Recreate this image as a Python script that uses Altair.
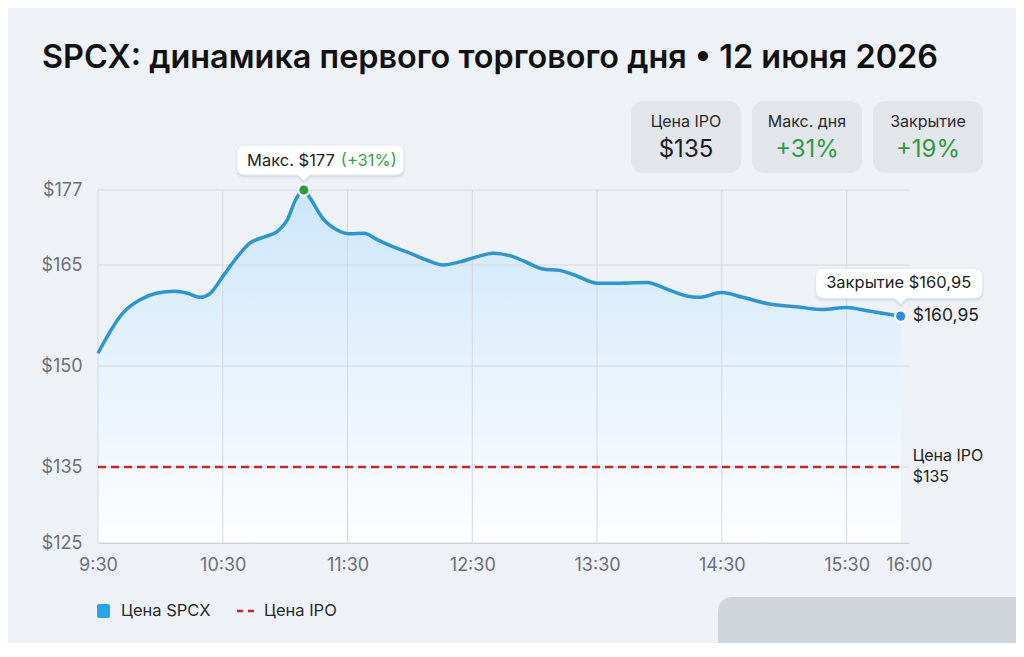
import altair as alt
import pandas as pd

# ---------------- data ----------------
minutes = [0, 12, 20, 28, 37, 43, 49, 54, 60, 67, 73, 80, 86, 91, 95, 99,
           102, 108, 115, 121, 128, 134, 142, 150, 158, 166, 174, 182, 190,
           198, 205, 214, 222, 230, 240, 251, 264, 273, 283, 289, 300, 310,
           323, 336, 348, 360, 370, 386]
prices = [151.9, 157.9, 159.8, 160.8, 161.1, 160.8, 160.2, 160.8, 163.3,
          166.3, 168.5, 169.5, 170.3, 172.2, 175.4, 177.0, 175.7, 172.5,
          170.6, 170.0, 170.1, 169.1, 167.9, 166.9, 165.8, 165.0, 165.5,
          166.3, 166.9, 166.5, 165.6, 164.4, 164.2, 163.4, 162.3, 162.3,
          162.4, 161.5, 160.4, 160.2, 160.9, 160.2, 159.2, 158.8, 158.4,
          158.7, 158.2, 157.4]
x_ticks = [0, 60, 120, 180, 240, 300, 360, 390]     # minutes after 9:30
grid_x = [0, 60, 120, 180, 240, 300, 360]
y_ticks = [125, 135, 150, 165, 177]
series_names = ["Цена SPCX", "Цена IPO"]
ipo_price = 135
close_printed = "160,95"
peak_label = "Макс. $177"
peak_change = "(+31%)"
ipo_label_lines = ["Цена IPO", "$135"]
card_labels = ["Цена IPO", "Макс. дня", "Закрытие"]
card_values = ["$135", "+31%", "+19%"]
title_text = "SPCX: динамика первого торгового дня • 12 июня 2026"

# ---------------- tables ----------------
price_df = pd.DataFrame({"m": minutes, "price": prices, "series": series_names[0]})
peak_df = price_df.loc[[price_df["price"].idxmax()]].copy()
close_df = price_df.iloc[[-1]].copy()
ipo_df = pd.DataFrame({"m0": [minutes[0]], "m1": [minutes[-1]],
                       "price": [ipo_price], "series": [series_names[1]]})
cards_df = pd.DataFrame({"label": card_labels, "value": card_values,
                         "i": list(range(len(card_labels)))})
cards_df["vcolor"] = ["#1c1c1c", "#2e9a44", "#2e9a44"]
legend_df = pd.DataFrame({"series": series_names, "i": [0, 1]})
gridx_df = pd.DataFrame({"m": grid_x})
gridy_df = pd.DataFrame({"price": y_ticks})

FONT = "Inter"
LINE = "#2d95d2"
RED = "#c3282d"
GREEN = "#2a9a3c"
GRID = "#d3d9e0"

x_scale = alt.Scale(domain=[0, 390], nice=False, zero=False)
y_scale = alt.Scale(domain=[125, 135, 150, 165, 177],
                    range=[353, 277, 176, 75, 0], nice=False, zero=False)
color_scale = alt.Scale(domain=series_names, range=[LINE, RED])

x_axis = alt.Axis(
    values=x_ticks, title=None,
    labelExpr="floor((datum.value + 570) / 60) + ':' + (((datum.value + 570) % 60) == 0 ? '00' : '30')",
    grid=False, domain=True, domainColor="#c6cdd5", ticks=False, labelFlush=False,
    labelFont=FONT, labelFontSize=18, labelColor="#6b7078", labelPadding=13)
y_axis = alt.Axis(
    values=y_ticks, title=None, labelExpr="'$' + datum.value",
    grid=False, domain=False, ticks=False,
    labelFont=FONT, labelFontSize=18, labelColor="#6b7078", labelPadding=16)

X = alt.X("m:Q", scale=x_scale, axis=x_axis)
Y = alt.Y("price:Q", scale=y_scale, axis=y_axis)
C = alt.Color("series:N", scale=color_scale, legend=None)

area = alt.Chart(price_df).mark_area(
    interpolate="monotone",
    color=alt.Gradient(gradient="linear", x1=0, x2=0, y1=0, y2=1,
                       stops=[alt.GradientStop(color="#cbe6fa", offset=0),
                              alt.GradientStop(color="#e4f1fc", offset=0.45),
                              alt.GradientStop(color="#fdfeff", offset=1)])
).encode(x=X, y=Y, y2=alt.datum(125))

grid_v = alt.Chart(gridx_df).mark_rule(color=GRID, strokeWidth=1).encode(x=X)
grid_h = alt.Chart(gridy_df).mark_rule(color=GRID, strokeWidth=1).encode(y=Y)

rule = alt.Chart(ipo_df).mark_rule(strokeDash=[8, 5], strokeWidth=2.5).encode(
    x=alt.X("m0:Q", scale=x_scale, axis=x_axis), x2="m1:Q", y=Y, color=C)

line = alt.Chart(price_df).mark_line(interpolate="monotone", strokeWidth=3.5).encode(
    x=X, y=Y, color=C)

ipo_txt1 = alt.Chart(ipo_df).mark_text(
    align="left", baseline="middle", dx=12, dy=-11, font=FONT, fontSize=16,
    color="#222").encode(x=alt.X("m1:Q", scale=x_scale, axis=x_axis), y=Y,
                         text=alt.value(ipo_label_lines[0]))
ipo_txt2 = alt.Chart(ipo_df).mark_text(
    align="left", baseline="middle", dx=12, dy=10, font=FONT, fontSize=16,
    color="#222").encode(x=alt.X("m1:Q", scale=x_scale, axis=x_axis), y=Y,
                         text=alt.value(ipo_label_lines[1]))

peak_box_path = ("M -59 -45 H 92 Q 100 -45 100 -37 V -23 Q 100 -15 92 -15 H 6 "
                 "L 0 -9 L -6 -15 H -59 Q -67 -15 -67 -23 V -37 Q -67 -45 -59 -45 Z")
close_box_path = ("M -77 -48 H 74 Q 82 -48 82 -40 V -26 Q 82 -18 74 -18 H 6 "
                  "L 0 -12 L -6 -18 H -77 Q -85 -18 -85 -26 V -40 Q -85 -48 -77 -48 Z")


def callout(df, path):
    shadow = alt.Chart(df).mark_point(
        shape=path, size=4, filled=True, fill="#5a6b80", fillOpacity=0.10,
        stroke="#5a6b80", strokeOpacity=0.06, strokeWidth=3, yOffset=2
    ).encode(x=X, y=Y)
    box = alt.Chart(df).mark_point(
        shape=path, size=4, filled=True, fill="#ffffff", fillOpacity=1,
        stroke="#e3e7ec", strokeWidth=1, opacity=1
    ).encode(x=X, y=Y)
    return shadow + box


peak_box = callout(peak_df, peak_box_path)
close_box = callout(close_df, close_box_path)

peak_t1 = alt.Chart(peak_df).mark_text(
    align="right", baseline="middle", dx=31, dy=-29, font=FONT, fontSize=16.5,
    color="#1e1e1e").encode(x=X, y=Y, text=alt.value(peak_label))
peak_t2 = alt.Chart(peak_df).mark_text(
    align="left", baseline="middle", dx=37, dy=-29, font=FONT, fontSize=16.5,
    color="#3a9d4a").encode(x=X, y=Y, text=alt.value(peak_change))
peak_pt = alt.Chart(peak_df).mark_point(
    shape="circle", size=125, filled=True, fill=GREEN, stroke="white",
    strokeWidth=2, opacity=1).encode(x=X, y=Y)

close_t = alt.Chart(close_df).mark_text(
    align="center", baseline="middle", dx=-2, dy=-33, font=FONT, fontSize=16.5,
    color="#1e1e1e").encode(x=X, y=Y, text=alt.value("Закрытие $" + close_printed))
close_v = alt.Chart(close_df).mark_text(
    align="left", baseline="middle", dx=12, dy=0, font=FONT, fontSize=17.5,
    color="#1e1e1e").encode(x=X, y=Y, text=alt.value("$" + close_printed))
close_pt = alt.Chart(close_df).mark_point(
    shape="circle", size=125, filled=True, fill="#2b8fe3", stroke="white",
    strokeWidth=2, opacity=1).encode(x=X, y=Y)

# ---------------- KPI cards (pixel layout above the plot) ----------------
cards_base = alt.Chart(cards_df).transform_calculate(
    cx="588 + 121 * datum.i", x1="533 + 121 * datum.i", x2="643 + 121 * datum.i")
cards_rect = cards_base.mark_rect(cornerRadius=12, color="#e2e6eb").encode(
    x=alt.X("x1:Q", scale=None, axis=None), x2="x2:Q",
    y=alt.value(-89), y2=alt.value(-17))
cards_lab = cards_base.mark_text(font=FONT, fontSize=16, color="#2b2b2b",
                                 baseline="middle").encode(
    x=alt.X("cx:Q", scale=None, axis=None), y=alt.value(-68), text="label:N")
cards_val = cards_base.mark_text(font=FONT, fontSize=24, baseline="middle").encode(
    x=alt.X("cx:Q", scale=None, axis=None), y=alt.value(-40), text="value:N",
    color=alt.Color("vcolor:N", scale=None))

# ---------------- legend (drawn below the plot) ----------------
leg_base = alt.Chart(legend_df)
leg_square = leg_base.transform_filter("datum.i == 0").mark_rect(
    cornerRadius=2, color="#29a3ee").encode(
    x=alt.value(-1), x2=alt.value(12), y=alt.value(414), y2=alt.value(428))
leg_dash = leg_base.transform_filter("datum.i == 1").mark_rule(
    strokeDash=[6, 5], strokeWidth=2.5, color=RED).encode(
    x=alt.value(139), x2=alt.value(157), y=alt.value(421))
leg_text = leg_base.transform_calculate(lx="23 + 143 * datum.i").mark_text(
    align="left", baseline="middle", font=FONT, fontSize=16.5, color="#2a2a2a").encode(
    x=alt.X("lx:Q", scale=None, axis=None), y=alt.value(421), text="series:N")

corner = alt.Chart(alt.Data(values=[{}])).mark_rect(
    cornerRadiusTopLeft=14, color="#d0d5db").encode(
    x=alt.value(620), x2=alt.value(930), y=alt.value(407), y2=alt.value(470))

chart = alt.layer(
    area, grid_v, grid_h, rule, line, ipo_txt1, ipo_txt2,
    peak_box, close_box, peak_t1, peak_t2, close_t, close_v,
    peak_pt, close_pt, cards_rect, cards_lab, cards_val,
    leg_square, leg_dash, leg_text, corner
).properties(
    width=811, height=353,
    title=alt.TitleParams(text=title_text, anchor="start", frame="group",
                          dx=-56, offset=1, baseline="alphabetic",
                          font=FONT, fontSize=32.4, fontWeight=600, color="#111111"),
    autosize=alt.AutoSizeParams(type="none"),
    padding={"left": 90, "top": 182, "right": 107, "bottom": 100},
    background="#eef2f7",
).configure_view(stroke=None)

chart.save("out.html", embed_options={"renderer": "svg", "actions": False})
